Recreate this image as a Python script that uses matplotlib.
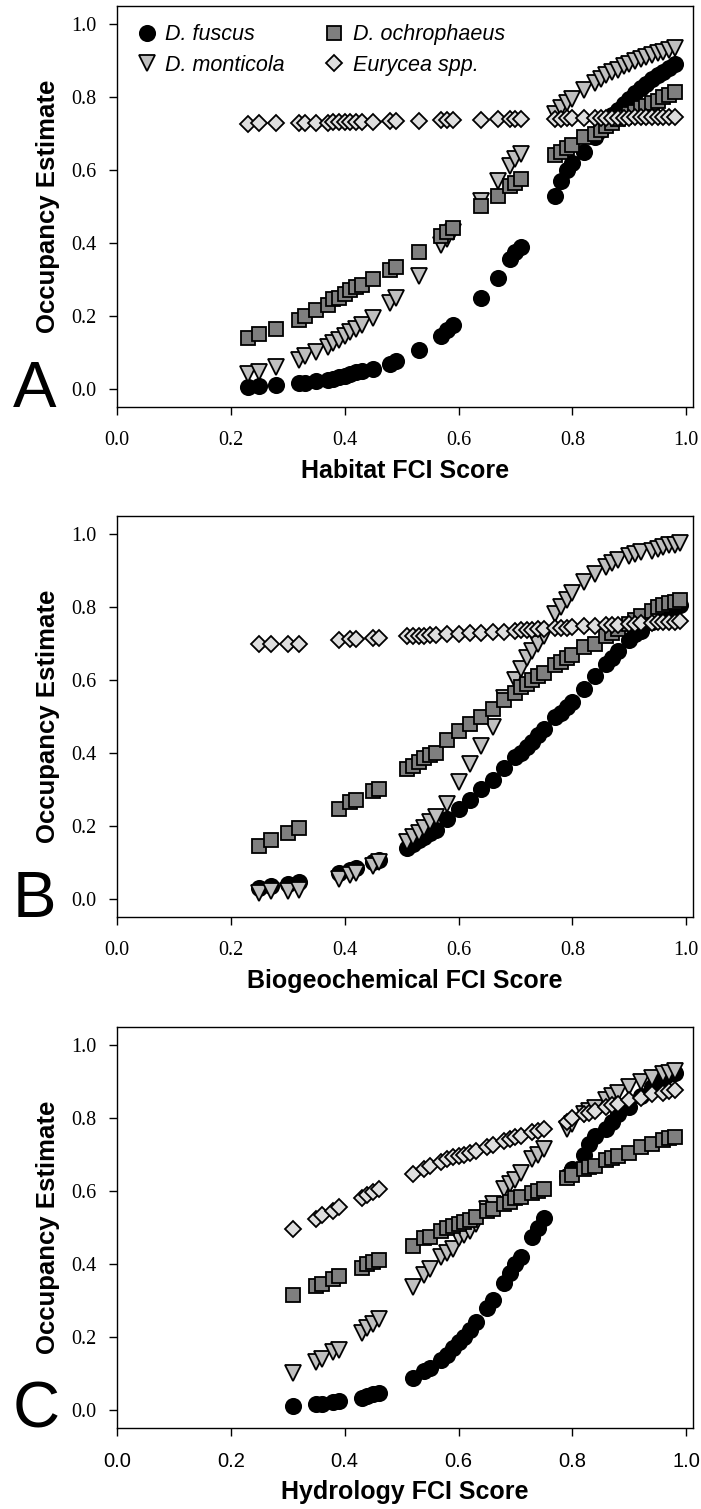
import matplotlib
matplotlib.use("Agg")
import matplotlib.pyplot as plt
from matplotlib.ticker import FixedLocator, FormatStrFormatter

# Panel A - Habitat FCI
habitat_x = [0.23, 0.25, 0.28, 0.32, 0.33, 0.35, 0.37, 0.38, 0.39, 0.40, 0.41, 0.42, 0.43, 0.45, 0.48,
             0.49, 0.53, 0.57, 0.58, 0.59, 0.64, 0.67, 0.69, 0.70, 0.71, 0.77, 0.78, 0.79, 0.80, 0.82,
             0.84, 0.85, 0.86, 0.87, 0.88, 0.89, 0.90, 0.91, 0.92, 0.93, 0.94, 0.95, 0.96, 0.97, 0.98]
fuscus_A = [0.005, 0.007, 0.01, 0.015, 0.017, 0.02, 0.025, 0.028, 0.032, 0.036, 0.04, 0.045, 0.05, 0.055, 0.068,
            0.075, 0.105, 0.145, 0.16, 0.175, 0.25, 0.305, 0.355, 0.375, 0.39, 0.53, 0.57, 0.60, 0.62, 0.65,
            0.69, 0.71, 0.73, 0.75, 0.765, 0.78, 0.795, 0.81, 0.825, 0.835, 0.85, 0.86, 0.87, 0.88, 0.89]
monticola_A = [0.04, 0.045, 0.06, 0.08, 0.09, 0.10, 0.115, 0.125, 0.135, 0.145, 0.155, 0.165, 0.175, 0.195, 0.235,
               0.25, 0.31, 0.395, 0.41, 0.43, 0.515, 0.57, 0.61, 0.63, 0.645, 0.755, 0.77, 0.785, 0.795, 0.82,
               0.84, 0.85, 0.86, 0.87, 0.875, 0.885, 0.89, 0.90, 0.905, 0.91, 0.915, 0.92, 0.925, 0.93, 0.935]
ochro_A = [0.14, 0.15, 0.165, 0.19, 0.20, 0.215, 0.23, 0.245, 0.25, 0.26, 0.27, 0.28, 0.285, 0.30, 0.325,
           0.335, 0.375, 0.42, 0.43, 0.44, 0.50, 0.53, 0.555, 0.565, 0.575, 0.64, 0.65, 0.66, 0.67, 0.69,
           0.70, 0.71, 0.72, 0.73, 0.74, 0.745, 0.755, 0.76, 0.77, 0.775, 0.785, 0.79, 0.80, 0.805, 0.815]
eurycea_A = [0.727, 0.728, 0.728, 0.729, 0.729, 0.730, 0.730, 0.731, 0.731, 0.731, 0.732, 0.732, 0.732, 0.733, 0.734,
             0.734, 0.735, 0.736, 0.736, 0.737, 0.738, 0.739, 0.739, 0.740, 0.740, 0.741, 0.741, 0.742, 0.742, 0.742,
             0.743, 0.743, 0.743, 0.744, 0.744, 0.744, 0.744, 0.745, 0.745, 0.745, 0.745, 0.746, 0.746, 0.746, 0.746]

# Panel B - Biogeochemical FCI
biogeo_x = [0.25, 0.27, 0.30, 0.32, 0.39, 0.41, 0.42, 0.45, 0.46, 0.51, 0.52, 0.53, 0.54, 0.55, 0.56,
            0.58, 0.60, 0.62, 0.64, 0.66, 0.68, 0.70, 0.71, 0.72, 0.73, 0.74, 0.75, 0.77, 0.78, 0.79,
            0.80, 0.82, 0.84, 0.86, 0.87, 0.88, 0.90, 0.91, 0.92, 0.94, 0.95, 0.96, 0.97, 0.98, 0.99]
fuscus_B = [0.03, 0.035, 0.04, 0.045, 0.07, 0.08, 0.085, 0.10, 0.105, 0.14, 0.15, 0.16, 0.17, 0.18, 0.19,
            0.22, 0.245, 0.27, 0.30, 0.325, 0.36, 0.39, 0.40, 0.415, 0.43, 0.45, 0.465, 0.50, 0.51, 0.525,
            0.54, 0.575, 0.61, 0.645, 0.66, 0.68, 0.71, 0.725, 0.735, 0.76, 0.77, 0.78, 0.79, 0.80, 0.805]
monticola_B = [0.015, 0.02, 0.02, 0.025, 0.055, 0.065, 0.07, 0.09, 0.10, 0.155, 0.17, 0.18, 0.195, 0.21, 0.225,
               0.26, 0.32, 0.37, 0.42, 0.47, 0.55, 0.60, 0.63, 0.66, 0.68, 0.70, 0.72, 0.78, 0.80, 0.82,
               0.84, 0.87, 0.89, 0.91, 0.92, 0.93, 0.94, 0.945, 0.95, 0.955, 0.96, 0.965, 0.97, 0.97, 0.975]
ochro_B = [0.145, 0.16, 0.18, 0.195, 0.245, 0.265, 0.27, 0.295, 0.30, 0.355, 0.365, 0.375, 0.385, 0.395, 0.40,
           0.435, 0.46, 0.48, 0.50, 0.52, 0.545, 0.565, 0.58, 0.59, 0.60, 0.61, 0.62, 0.64, 0.65, 0.66,
           0.67, 0.69, 0.70, 0.72, 0.73, 0.74, 0.755, 0.765, 0.775, 0.79, 0.80, 0.805, 0.81, 0.815, 0.82]
eurycea_B = [0.70, 0.70, 0.70, 0.70, 0.71, 0.712, 0.713, 0.715, 0.716, 0.72, 0.721, 0.722, 0.722, 0.723, 0.724,
             0.726, 0.727, 0.728, 0.73, 0.731, 0.733, 0.735, 0.736, 0.737, 0.738, 0.739, 0.740, 0.742, 0.743, 0.744,
             0.745, 0.747, 0.748, 0.75, 0.751, 0.752, 0.754, 0.755, 0.756, 0.757, 0.758, 0.759, 0.76, 0.76, 0.762]

# Panel C - Hydrology FCI
hydro_x = [0.31, 0.35, 0.36, 0.38, 0.39, 0.43, 0.44, 0.45, 0.46, 0.52, 0.54, 0.55, 0.57, 0.58,
           0.59, 0.60, 0.61, 0.62, 0.63, 0.65, 0.66, 0.68, 0.69, 0.70, 0.71, 0.73, 0.74, 0.75,
           0.79, 0.80, 0.82, 0.83, 0.84, 0.86, 0.87, 0.88, 0.90, 0.92, 0.94, 0.96, 0.97, 0.98]
fuscus_C = [0.01, 0.015, 0.017, 0.02, 0.025, 0.032, 0.037, 0.042, 0.047, 0.088, 0.105, 0.115, 0.137, 0.15,
            0.17, 0.185, 0.20, 0.22, 0.24, 0.28, 0.30, 0.347, 0.374, 0.40, 0.42, 0.473, 0.50, 0.527,
            0.64, 0.66, 0.70, 0.73, 0.75, 0.77, 0.79, 0.81, 0.83, 0.86, 0.885, 0.905, 0.92, 0.925]
monticola_C = [0.10, 0.13, 0.14, 0.158, 0.165, 0.21, 0.225, 0.235, 0.25, 0.336, 0.37, 0.385, 0.418, 0.43,
               0.44, 0.47, 0.48, 0.49, 0.51, 0.55, 0.565, 0.606, 0.62, 0.63, 0.65, 0.688, 0.70, 0.715,
               0.77, 0.785, 0.81, 0.82, 0.828, 0.85, 0.86, 0.87, 0.885, 0.90, 0.91, 0.92, 0.925, 0.93]
ochro_C = [0.315, 0.34, 0.345, 0.36, 0.367, 0.39, 0.40, 0.405, 0.41, 0.45, 0.47, 0.475, 0.49, 0.50,
           0.505, 0.51, 0.515, 0.52, 0.53, 0.545, 0.55, 0.565, 0.57, 0.58, 0.585, 0.595, 0.60, 0.605,
           0.637, 0.645, 0.66, 0.665, 0.67, 0.685, 0.69, 0.695, 0.705, 0.72, 0.73, 0.74, 0.745, 0.748]
eurycea_C = [0.497, 0.524, 0.533, 0.546, 0.555, 0.582, 0.59, 0.597, 0.606, 0.647, 0.66, 0.67, 0.68, 0.688,
             0.693, 0.697, 0.70, 0.705, 0.71, 0.72, 0.725, 0.738, 0.742, 0.747, 0.752, 0.762, 0.766, 0.77,
             0.79, 0.80, 0.81, 0.815, 0.82, 0.83, 0.835, 0.84, 0.85, 0.855, 0.865, 0.87, 0.875, 0.878]

species = ["D. fuscus", "D. monticola", "D. ochrophaeus", "Eurycea spp."]
ticks = [0.0, 0.2, 0.4, 0.6, 0.8, 1.0]

# marker style per species: marker, size, face colour
styles = {
    "D. fuscus": ("o", 11, "black"),
    "D. monticola": ("v", 11, "#bfbfbf"),
    "D. ochrophaeus": ("s", 9.5, "#7f7f7f"),
    "Eurycea spp.": ("D", 8, "#dedede"),
}

panels = [
    ("A", "Habitat FCI Score", habitat_x, [fuscus_A, monticola_A, ochro_A, eurycea_A], 407),
    ("B", "Biogeochemical FCI Score", biogeo_x, [fuscus_B, monticola_B, ochro_B, eurycea_B], 917),
    ("C", "Hydrology FCI Score", hydro_x, [fuscus_C, monticola_C, ochro_C, eurycea_C], 1428),
]

W, H = 701, 1509
fig = plt.figure(figsize=(W / 100, H / 100), dpi=100)

serif = "Liberation Serif"
sans = "Liberation Sans"

for letter, xlabel, xs, ys, bottom_px in panels:
    ax = fig.add_axes([117 / W, 1 - bottom_px / H, 576 / W, 401 / H])
    handles = []
    for name, yvals in zip(species, ys):
        m, ms, fc = styles[name]
        h, = ax.plot(xs, yvals, linestyle="none", marker=m, markersize=ms,
                     markerfacecolor=fc, markeredgecolor="black", markeredgewidth=1.3,
                     label=name)
        handles.append(h)

    ax.set_xlim(0, 1.012)
    ax.set_ylim(-0.05, 1.05)
    ax.xaxis.set_major_locator(FixedLocator(ticks))
    ax.yaxis.set_major_locator(FixedLocator(ticks))
    ax.xaxis.set_major_formatter(FormatStrFormatter("%.1f"))
    ax.yaxis.set_major_formatter(FormatStrFormatter("%.1f"))
    ax.tick_params(direction="out", length=6, width=1.0, top=False, right=False)
    ax.tick_params(axis="x", pad=11)
    ax.tick_params(axis="y", pad=9)
    for lab in ax.get_yticklabels():
        lab.set_fontfamily(serif)
        lab.set_fontsize(14.5)
    for lab in ax.get_xticklabels():
        lab.set_fontfamily(sans if letter == "C" else serif)
        lab.set_fontsize(14.5)
    for sp in ax.spines.values():
        sp.set_linewidth(1.0)

    ax.set_xlabel(xlabel, fontfamily=sans, fontweight="bold", fontsize=18)
    ax.xaxis.set_label_coords(0.5, -0.16)
    ax.xaxis.label.set_verticalalignment("center")
    ax.set_ylabel("Occupancy Estimate", fontfamily=sans, fontweight="bold", fontsize=18.5)
    ax.yaxis.set_label_coords(-0.12, 0.5)
    ax.yaxis.label.set_verticalalignment("center")

    fig.text(13 / W, 1 - bottom_px / H, letter, fontfamily=sans, fontsize=47,
             ha="left", va="baseline")

    if letter == "A":
        ax.legend(handles=handles, ncol=2, loc="upper left", bbox_to_anchor=(0.033, 0.955),
                  frameon=False, borderpad=0, borderaxespad=0, handlelength=1.0,
                  handletextpad=0.35, columnspacing=1.8, labelspacing=0.45,
                  prop={"family": sans, "style": "italic", "size": 15.5})

fig.savefig("out.png", dpi=100)
